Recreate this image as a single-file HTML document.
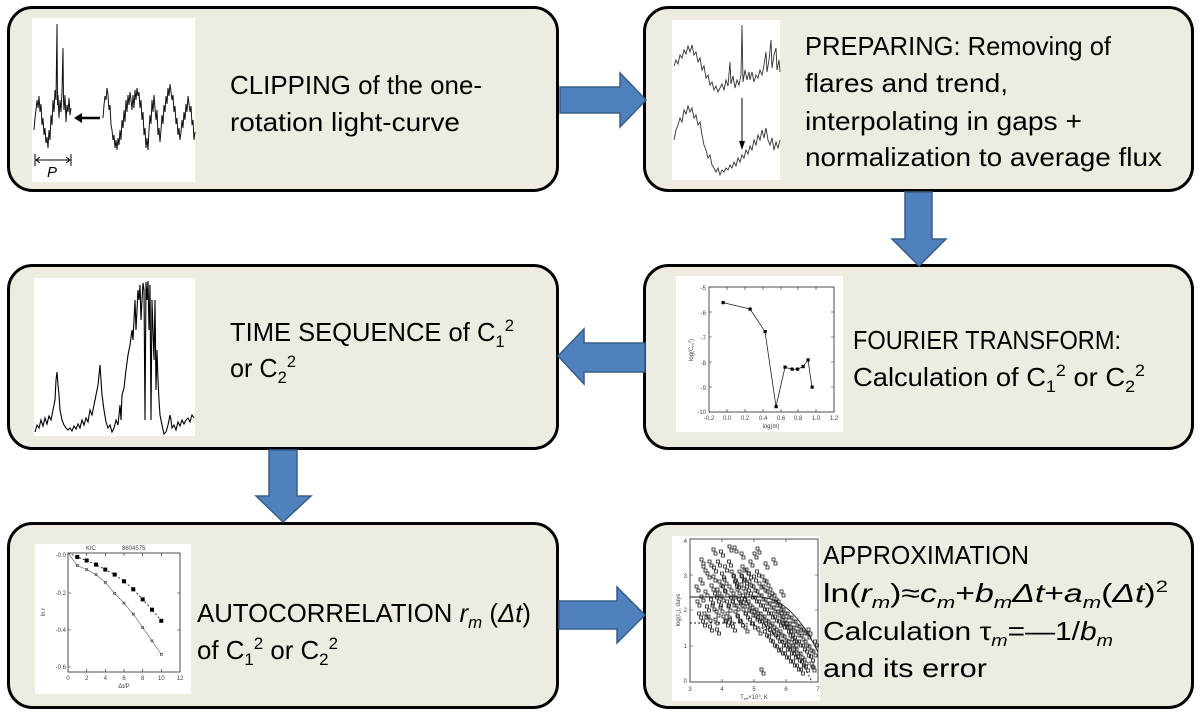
<!DOCTYPE html>
<html><head><meta charset="utf-8">
<style>
html,body{margin:0;padding:0;background:#fff;}
svg{display:block;}
.t{font-family:"Liberation Sans",sans-serif;font-size:26px;fill:#000;}
.s{font-size:17px;}
.it{font-style:italic;}
.lb{font-family:"Liberation Sans",sans-serif;font-size:6px;fill:#444;}
</style></head>
<body>
<svg width="1200" height="713" viewBox="0 0 1200 713" xmlns="http://www.w3.org/2000/svg">
<rect width="1200" height="713" fill="#fff"/>
<!-- boxes -->
<g fill="#EEECE1" stroke="#000" stroke-width="3">
<rect x="8.5" y="7.5" width="549" height="183" rx="24"/>
<rect x="644.5" y="7.5" width="548" height="183" rx="24"/>
<rect x="8.5" y="265.5" width="549" height="183" rx="24"/>
<rect x="644.5" y="265.5" width="548" height="183" rx="24"/>
<rect x="8.5" y="523.5" width="549" height="184" rx="24"/>
<rect x="644.5" y="523.5" width="548" height="184" rx="24"/>
</g>

<!-- plot 1: clipping -->
<rect x="32" y="18" width="163" height="164" fill="#fff"/>
<g fill="none" stroke="#111" stroke-width="1">
<polyline points="34,130 35,118 36,110 37,100 38,108 39,96 40,112 41,104 42,125 43,118 44,135 45,128 46,143 47,137 48,148 49,130 50,140 51,115 52,125 53,100 54,112 55,90 56,100 57,24 57.5,105 58,95 59,118 60,100 61,112 62,92 63,48 63.5,100 64,110 65,95 66,122 67,105 68,112 69,98 70,115 71,108"/>
<polyline points="103,118 104,105 105,96 106,100 107,88 108,95 109,110 110,105 111,125 112,130 113,140 114,135 115,148 116,140 117,150 118,138 119,145 120,130 121,140 122,120 123,128 124,110 125,122 126,100 127,112 128,95 129,105 130,92 131,100 132,110 133,95 134,108 135,90 136,100 137,88 138,96 139,92 140,108 141,100 142,120 143,112 144,135 145,128 146,148 147,138 148,150 149,130 150,115 151,124 152,100 153,112 154,95 155,108 156,120 157,110 158,135 159,128 160,142 161,130 162,115 163,124 164,105 165,112 166,96 167,104 168,88 169,96 170,84 171,92 172,100 173,95 174,112 175,106 176,124 177,118 178,135 179,128 180,140 181,132 182,120 183,128 184,112 185,120 186,104 187,112 188,96 189,104 190,112 191,106 192,125 193,120 194,140 195,132"/>
</g>
<line x1="100" y1="118" x2="80" y2="118" stroke="#000" stroke-width="2.5"/>
<polygon points="74,118 82,113 82,123" fill="#000"/>
<g stroke="#000" stroke-width="1" fill="none">
<line x1="35" y1="154" x2="35" y2="166"/><line x1="71" y1="154" x2="71" y2="166"/>
<line x1="36" y1="160" x2="70" y2="160"/>
<polyline points="40,157 36,160 40,163"/><polyline points="66,157 70,160 66,163"/>
</g>
<text x="47" y="177" font-family="Liberation Sans" font-style="italic" font-size="15" fill="#000">P</text>

<!-- plot 2: preparing -->
<rect x="672" y="20" width="108" height="160" fill="#fff"/>
<g fill="none" stroke="#333" stroke-width="0.9">
<polyline points="674,66 676,60 678,64 680,55 682,58 684,50 686,54 688,46 690,52 692,45 694,55 696,52 698,62 700,58 702,70 704,66 706,78 708,75 710,85 712,82 714,90 716,86 718,92 720,88 722,84 724,90 726,80 728,86 730,62 731,84 733,76 735,88 737,80 739,85 741,75 742,25 743,82 745,70 747,80 749,72 750,80 752,72 754,82 756,75 758,78 760,70 762,75 764,65 766,52 767,72 769,60 771,40 772,68 774,55 776,48 777,70 779,60 780,72"/>
<polyline points="674,140 676,130 678,125 680,118 682,122 684,110 686,114 688,106 690,112 692,108 694,118 696,115 698,125 700,122 702,135 704,145 706,150 708,158 710,155 712,165 714,168 716,172 718,168 720,175 722,170 724,172 726,168 728,170 730,165 732,168 734,162 736,166 738,158 740,162 742,155 744,158 746,150 748,154 750,146 752,150 754,140 756,145 758,135 760,140 762,130 764,138 766,128 768,140 770,145 772,138 774,150 776,142 778,148 780,140"/>
</g>
<line x1="742" y1="98" x2="742" y2="144" stroke="#000" stroke-width="1"/>
<polygon points="742,150 739,141 745,141" fill="#000"/>

<!-- plot 3: time sequence -->
<rect x="34" y="278" width="161" height="158" fill="#fff"/>
<polyline fill="none" stroke="#000" stroke-width="1.1" points="35,432 37,425 39,428 41,420 43,426 45,418 47,424 49,416 51,420 53,410 55,400 56,380 57,372 58,385 59,395 60,410 62,420 64,425 66,428 68,430 70,428 72,431 74,426 76,429 78,424 80,428 82,420 84,425 86,418 88,422 90,410 92,415 94,405 96,395 98,385 100,365 101,380 102,395 104,410 106,422 108,428 110,425 112,432 114,428 116,420 118,425 120,405 121,420 122,395 124,388 126,370 128,355 130,345 132,330 133,340 134,320 135,300 136,330 137,310 138,290 139,300 140,285 141,320 142,300 143,283 144,290 145,420 146,282 147,300 148,281 149,330 150,285 151,420 152,300 153,330 154,360 155,300 156,390 157,350 158,380 159,400 160,415 162,425 164,434 166,432 168,425 170,415 171,420 172,428 174,425 176,430 178,422 180,426 182,420 184,424 186,420 188,418 190,422 192,415 194,418"/>

<!-- plot 4: fourier -->
<rect x="676" y="276" width="167" height="156" fill="#fff"/>
<rect x="709" y="287" width="125" height="125" fill="none" stroke="#222" stroke-width="0.8"/>
<g stroke="#222" stroke-width="0.6">
<path d="M727 412v-3M745 412v-3M763 412v-3M781 412v-3M798 412v-3M816 412v-3M727 287v3M745 287v3M763 287v3M781 287v3M798 287v3M816 287v3M709 312h3M709 337h3M709 362h3M709 387h3M834 312h-3M834 337h-3M834 362h-3M834 387h-3"/>
</g>
<polyline fill="none" stroke="#222" stroke-width="0.8" points="723,302.6 750,309 765,331.6 776,406.5 785,367.2 792,369.2 797.6,369.2 803,366.6 808,359.9 812,387.2"/>
<g fill="#000">
<rect x="721.5" y="301" width="3.2" height="3.2"/><rect x="748.5" y="307.5" width="3.2" height="3.2"/><rect x="763.5" y="330" width="3.2" height="3.2"/><rect x="774.5" y="405" width="3.2" height="3.2"/><rect x="783.5" y="365.5" width="3.2" height="3.2"/><rect x="790.5" y="367.5" width="3.2" height="3.2"/><rect x="796" y="367.5" width="3.2" height="3.2"/><rect x="801.5" y="365" width="3.2" height="3.2"/><rect x="806.5" y="358.3" width="3.2" height="3.2"/><rect x="810.5" y="385.5" width="3.2" height="3.2"/>
</g>
<g class="lb" text-anchor="middle">
<text x="709" y="420">-0.2</text><text x="727" y="420">0.0</text><text x="745" y="420">0.2</text><text x="763" y="420">0.4</text><text x="781" y="420">0.6</text><text x="798" y="420">0.8</text><text x="816" y="420">1.0</text><text x="834" y="420">1.2</text>
<text x="771" y="428">log(m)</text>
</g>
<g class="lb" text-anchor="end">
<text x="706" y="290">-5</text><text x="706" y="315">-6</text><text x="706" y="340">-7</text><text x="706" y="365">-8</text><text x="706" y="390">-9</text><text x="706" y="414">-10</text>
</g>
<text class="lb" transform="translate(693,350) rotate(-90)" text-anchor="middle">log(C<tspan font-size="4" dy="1">m</tspan><tspan font-size="4" dy="-3">2</tspan><tspan dy="2">)</tspan></text>

<!-- plot 5: autocorrelation -->
<rect x="35" y="544" width="156" height="150" fill="#fff"/>
<rect x="68" y="553" width="112" height="119" fill="none" stroke="#222" stroke-width="0.8"/>
<g stroke="#222" stroke-width="0.6">
<path d="M86.7 672v-3M105.3 672v-3M124 672v-3M142.7 672v-3M161.3 672v-3M86.7 553v3M105.3 553v3M124 553v3M142.7 553v3M161.3 553v3M68 593h3M68 630h3M68 667h3M180 593h-3M180 630h-3"/>
</g>
<polyline fill="none" stroke="#222" stroke-width="0.9" stroke-dasharray="2 2" points="68,553 77.3,557 86.7,560.5 96,564.6 105.3,569.6 114.7,574.6 124,581.3 133.3,589.3 142.7,599.4 152,609.7 161.3,620.8"/>
<polyline fill="none" stroke="#777" stroke-width="0.7" points="68,553 77.3,565.5 86.7,569.6 96,574.6 105.3,582.3 114.7,593.4 124,603.1 133.3,614.1 142.7,627.5 152,640.9 161.3,654.3"/>
<g fill="#000">
<rect x="75.3" y="555" width="4" height="4"/><rect x="84.7" y="558.5" width="4" height="4"/><rect x="94" y="562.6" width="4" height="4"/><rect x="103.3" y="567.6" width="4" height="4"/><rect x="112.7" y="572.6" width="4" height="4"/><rect x="122" y="579.3" width="4" height="4"/><rect x="131.3" y="587.3" width="4" height="4"/><rect x="140.7" y="597.4" width="4" height="4"/><rect x="150" y="607.7" width="4" height="4"/><rect x="159.3" y="618.8" width="4" height="4"/>
</g>
<g fill="none" stroke="#333" stroke-width="0.6">
<rect x="76.3" y="564.5" width="2" height="2"/><rect x="85.7" y="568.6" width="2" height="2"/><rect x="95" y="573.6" width="2" height="2"/><rect x="104.3" y="581.3" width="2" height="2"/><rect x="113.7" y="592.4" width="2" height="2"/><rect x="123" y="602.1" width="2" height="2"/><rect x="132.3" y="613.1" width="2" height="2"/><rect x="141.7" y="626.5" width="2" height="2"/><rect x="151" y="639.9" width="2" height="2"/><rect x="160.3" y="653.3" width="2" height="2"/>
</g>
<g class="lb">
<text x="86" y="550">KIC</text><text x="122" y="550">8604575</text>
</g>
<g class="lb" text-anchor="middle">
<text x="68" y="680">0</text><text x="86.7" y="680">2</text><text x="105.3" y="680">4</text><text x="124" y="680">6</text><text x="142.7" y="680">8</text><text x="161.3" y="680">10</text><text x="180" y="680">12</text>
<text x="124" y="688">Δt/P</text>
</g>
<g class="lb" text-anchor="end">
<text x="66" y="557">-0.0</text><text x="66" y="595">-0.2</text><text x="66" y="632">-0.4</text><text x="66" y="669">-0.6</text>
</g>
<text class="lb" transform="translate(45,612) rotate(-90)" text-anchor="middle">ln r</text>

<!-- plot 6: approximation -->
<rect x="672" y="536" width="148" height="165" fill="#fff"/>
<rect x="690" y="539" width="128" height="143" fill="none" stroke="#222" stroke-width="0.8"/>
<g stroke="#222" stroke-width="0.6">
<path d="M722 682v-3M754 682v-3M786 682v-3M722 539v3M754 539v3M786 539v3M690 575h3M690 610h3M690 646h3M818 575h-3M818 610h-3M818 646h-3"/>
</g>
<path fill="none" stroke="#111" stroke-width="0.9" d="M690 597L760 597C780 598 800 615 818 652"/>
<path fill="none" stroke="#111" stroke-width="0.9" stroke-dasharray="2 2" d="M690 623L740 623C770 625 795 645 812 682"/>
<path id="sc" fill="none" stroke="#1a1a1a" stroke-width="0.8" d="M696 600h3v3h-3zM697.5 612h3v3h-3zM695 585h3v3h-3zM700 595h3v3h-3zM701.5 620h3v3h-3zM699 578h3v3h-3zM702 565h3v3h-3zM704 590h3v3h-3zM705.5 605h3v3h-3zM703 612h3v3h-3zM706 572h3v3h-3zM708 560h3v3h-3zM709.5 598h3v3h-3zM707 615h3v3h-3zM710 584h3v3h-3zM708.5 625h3v3h-3zM712 575h3v3h-3zM713.5 592h3v3h-3zM711 604h3v3h-3zM714 618h3v3h-3zM712.5 566h3v3h-3zM716 588h3v3h-3zM717.5 600h3v3h-3zM715 610h3v3h-3zM718 580h3v3h-3zM716.5 560h3v3h-3zM715.5 628h3v3h-3zM720 595h3v3h-3zM721.5 585h3v3h-3zM719 606h3v3h-3zM722 615h3v3h-3zM720.5 572h3v3h-3zM719.5 550h3v3h-3zM724 590h3v3h-3zM725.5 600h3v3h-3zM723 578h3v3h-3zM726 612h3v3h-3zM724.5 620h3v3h-3zM723.5 565h3v3h-3zM728 585h3v3h-3zM729.5 596h3v3h-3zM727 605h3v3h-3zM730 570h3v3h-3zM728.5 618h3v3h-3zM727.5 560h3v3h-3zM732 592h3v3h-3zM733.5 580h3v3h-3zM731 600h3v3h-3zM734 610h3v3h-3zM732.5 575h3v3h-3zM731.5 625h3v3h-3zM733 546h3v3h-3zM736 588h3v3h-3zM737.5 598h3v3h-3zM735 604h3v3h-3zM738 570h3v3h-3zM736.5 615h3v3h-3zM735.5 582h3v3h-3zM740 583h3v3h-3zM741.5 594h3v3h-3zM739 600h3v3h-3zM742 608h3v3h-3zM740.5 575h3v3h-3zM739.5 620h3v3h-3zM741 565h3v3h-3zM744 590h3v3h-3zM745.5 585h3v3h-3zM743 598h3v3h-3zM746 605h3v3h-3zM744.5 612h3v3h-3zM743.5 578h3v3h-3zM745 568h3v3h-3zM744 626h3v3h-3zM748 580h3v3h-3zM749.5 592h3v3h-3zM747 600h3v3h-3zM750 610h3v3h-3zM748.5 618h3v3h-3zM747.5 572h3v3h-3zM749 560h3v3h-3zM752 585h3v3h-3zM753.5 596h3v3h-3zM751 606h3v3h-3zM754 614h3v3h-3zM752.5 575h3v3h-3zM751.5 622h3v3h-3zM753 552h3v3h-3zM756 590h3v3h-3zM757.5 600h3v3h-3zM755 608h3v3h-3zM758 582h3v3h-3zM756.5 616h3v3h-3zM755.5 570h3v3h-3zM757 628h3v3h-3zM760 594h3v3h-3zM761.5 604h3v3h-3zM759 612h3v3h-3zM762 585h3v3h-3zM760.5 620h3v3h-3zM761 575h3v3h-3zM764 598h3v3h-3zM765.5 608h3v3h-3zM763 615h3v3h-3zM766 590h3v3h-3zM764.5 622h3v3h-3zM763.5 630h3v3h-3zM765 580h3v3h-3zM768 602h3v3h-3zM769.5 612h3v3h-3zM767 620h3v3h-3zM770 596h3v3h-3zM768.5 628h3v3h-3zM767.5 635h3v3h-3zM769 588h3v3h-3zM772 606h3v3h-3zM773.5 615h3v3h-3zM771 622h3v3h-3zM774 600h3v3h-3zM772.5 630h3v3h-3zM771.5 640h3v3h-3zM773 594h3v3h-3zM776 610h3v3h-3zM777.5 620h3v3h-3zM775 628h3v3h-3zM778 604h3v3h-3zM776.5 636h3v3h-3zM775.5 645h3v3h-3zM777 600h3v3h-3zM780 612h3v3h-3zM781.5 622h3v3h-3zM779 630h3v3h-3zM782 608h3v3h-3zM780.5 640h3v3h-3zM779.5 648h3v3h-3zM781 618h3v3h-3zM784 618h3v3h-3zM785.5 626h3v3h-3zM783 635h3v3h-3zM786 612h3v3h-3zM784.5 644h3v3h-3zM783.5 652h3v3h-3zM785 622h3v3h-3zM788 622h3v3h-3zM789.5 630h3v3h-3zM787 640h3v3h-3zM790 616h3v3h-3zM788.5 648h3v3h-3zM787.5 656h3v3h-3zM789 634h3v3h-3zM792 626h3v3h-3zM793.5 636h3v3h-3zM791 644h3v3h-3zM794 620h3v3h-3zM792.5 652h3v3h-3zM791.5 660h3v3h-3zM793 640h3v3h-3zM796 630h3v3h-3zM797.5 640h3v3h-3zM795 648h3v3h-3zM798 625h3v3h-3zM796.5 655h3v3h-3zM795.5 664h3v3h-3zM800 634h3v3h-3zM801.5 644h3v3h-3zM799 652h3v3h-3zM802 628h3v3h-3zM800.5 660h3v3h-3zM799.5 668h3v3h-3zM804 640h3v3h-3zM805.5 650h3v3h-3zM803 658h3v3h-3zM806 632h3v3h-3zM804.5 665h3v3h-3zM808 645h3v3h-3zM809.5 655h3v3h-3zM807 628h3v3h-3zM810 662h3v3h-3zM812 650h3v3h-3zM813.5 640h3v3h-3zM811 665h3v3h-3zM728 545h3v3h-3zM756 547h3v3h-3zM772 558h3v3h-3zM700 558h3v3h-3zM712 548h3v3h-3zM760 668h3v3h-3zM740 552h3v3h-3zM764 562h3v3h-3zM780 590h3v3h-3z"/>
<use href="#sc" transform="translate(2,4)"/>
<g class="lb" text-anchor="middle">
<text x="690" y="691">3</text><text x="722" y="691">4</text><text x="754" y="691">5</text><text x="786" y="691">6</text><text x="818" y="691">7</text>
<text x="754" y="699">T<tspan font-size="4" dy="1">eff</tspan><tspan dy="-1">×10</tspan><tspan font-size="4" dy="-2">3</tspan><tspan dy="2">, K</tspan></text>
</g>
<g class="lb" text-anchor="end">
<text x="687" y="543">4</text><text x="687" y="578">3</text><text x="687" y="612">2</text><text x="687" y="648">1</text><text x="687" y="683">0</text>
</g>
<text class="lb" transform="translate(680,610) rotate(-90)" text-anchor="middle">log(τ<tspan font-size="4" dy="1">1</tspan><tspan dy="-1">), days</tspan></text>

<!-- arrows -->
<g fill="#4F81BD" stroke="#385D8A" stroke-width="1.5" stroke-linejoin="miter">
<polygon points="560,87 620,87 620,73 646,100 620,127 620,113 560,113"/>
<polygon points="905,192 932,192 932,239 946,239 919,266 892,239 905,239"/>
<polygon points="645,343 584,343 584,329 558,356 584,384 584,372 645,372"/>
<polygon points="269,450 297,450 297,496 311,496 283,522 256,496 269,496"/>
<polygon points="559,601 617,601 617,587 645,615 617,643 617,629 559,629"/>
</g>

<!-- texts -->
<g class="t">
<text x="230" y="94" textLength="252" lengthAdjust="spacingAndGlyphs">CLIPPING of the one-</text>
<text x="230" y="131" textLength="230" lengthAdjust="spacingAndGlyphs">rotation light-curve</text>

<text x="805" y="55" textLength="306" lengthAdjust="spacingAndGlyphs">PREPARING: Removing of</text>
<text x="805" y="92" textLength="203" lengthAdjust="spacingAndGlyphs">flares and trend,</text>
<text x="805" y="130" textLength="277" lengthAdjust="spacingAndGlyphs">interpolating in gaps +</text>
<text x="805" y="166" textLength="357" lengthAdjust="spacingAndGlyphs">normalization to average flux</text>

<text x="230" y="341" textLength="284" lengthAdjust="spacingAndGlyphs">TIME SEQUENCE of C<tspan class="s" dy="6">1</tspan><tspan class="s" dy="-16">2</tspan></text>
<text x="230" y="377" textLength="66" lengthAdjust="spacingAndGlyphs">or C<tspan class="s" dy="6">2</tspan><tspan class="s" dy="-16">2</tspan></text>

<text x="853" y="349" textLength="268" lengthAdjust="spacingAndGlyphs">FOURIER TRANSFORM:</text>
<text x="853" y="386" textLength="292" lengthAdjust="spacingAndGlyphs">Calculation of C<tspan class="s" dy="6">1</tspan><tspan class="s" dy="-16">2</tspan><tspan dy="10"> or C</tspan><tspan class="s" dy="6">2</tspan><tspan class="s" dy="-16">2</tspan></text>

<text x="197" y="622" textLength="334" lengthAdjust="spacingAndGlyphs">AUTOCORRELATION <tspan class="it">r</tspan><tspan class="s it" dy="6">m</tspan><tspan dy="-6"> (</tspan><tspan class="it">Δt</tspan>)</text>
<text x="197" y="659" textLength="141" lengthAdjust="spacingAndGlyphs">of C<tspan class="s" dy="6">1</tspan><tspan class="s" dy="-16">2</tspan><tspan dy="10"> or C</tspan><tspan class="s" dy="6">2</tspan><tspan class="s" dy="-16">2</tspan></text>

<text x="823" y="564" textLength="206" lengthAdjust="spacingAndGlyphs">APPROXIMATION</text>
<text x="823" y="602" textLength="345" lengthAdjust="spacingAndGlyphs">ln(<tspan class="it">r</tspan><tspan class="s it" dy="6">m</tspan><tspan dy="-6">)≈</tspan><tspan class="it">c</tspan><tspan class="s it" dy="6">m</tspan><tspan dy="-6">+</tspan><tspan class="it">b</tspan><tspan class="s it" dy="6">m</tspan><tspan class="it" dy="-6">Δt</tspan>+<tspan class="it">a</tspan><tspan class="s it" dy="6">m</tspan><tspan dy="-6">(</tspan><tspan class="it">Δt</tspan>)<tspan class="s" dy="-10">2</tspan></text>
<text x="823" y="640" textLength="290" lengthAdjust="spacingAndGlyphs">Calculation τ<tspan class="s it" dy="6">m</tspan><tspan dy="-6">=—1/</tspan><tspan class="it">b</tspan><tspan class="s it" dy="6">m</tspan></text>
<text x="823" y="677" textLength="164" lengthAdjust="spacingAndGlyphs">and its error</text>
</g>
</svg>
</body></html>
